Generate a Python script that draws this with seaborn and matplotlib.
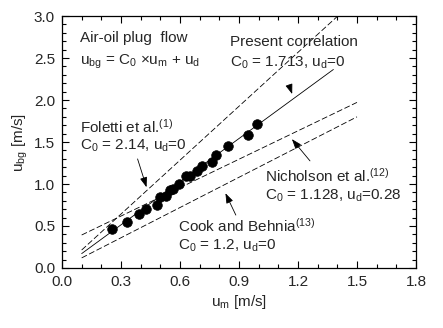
import numpy as np
import pandas as pd
import matplotlib
matplotlib.use("Agg")
import matplotlib.pyplot as plt
import seaborn as sns
from matplotlib.ticker import MultipleLocator

# Measured data
um = [0.253, 0.329, 0.391, 0.427, 0.483, 0.498, 0.527, 0.550, 0.565, 0.594,
      0.632, 0.653, 0.685, 0.712, 0.761, 0.783, 0.845, 0.947, 0.990]
ubg = [0.46, 0.55, 0.64, 0.70, 0.75, 0.84, 0.86, 0.93, 0.94, 1.00,
       1.09, 1.10, 1.16, 1.22, 1.265, 1.345, 1.456, 1.583, 1.714]

# Correlations
corr_names = ["Present", "Foletti", "Nicholson", "Cook"]
corr_C0 = [1.713, 2.14, 1.128, 1.2]
corr_ud = [0.0, 0.0, 0.28, 0.0]
corr_xmin = [0.1, 0.1, 0.1, 0.1]
corr_xmax = [1.38, 1.40, 1.5, 1.5]

sns.set_theme(style="ticks")
plt.rcParams["font.family"] = ["Liberation Sans", "DejaVu Sans"]
plt.rcParams["mathtext.fontset"] = "custom"
plt.rcParams["mathtext.rm"] = "Liberation Sans"
plt.rcParams["mathtext.it"] = "Liberation Sans"
plt.rcParams["mathtext.default"] = "regular"

fig = plt.figure(figsize=(4.43, 3.28), dpi=100)
ax = fig.add_axes([0.140, 0.183, 0.799, 0.768])

for name, c0, ud, x0, x1 in zip(corr_names, corr_C0, corr_ud, corr_xmin, corr_xmax):
    xs = np.array([x0, x1])
    df = pd.DataFrame({"x": xs, "y": c0 * xs + ud})
    ls = "-" if name == "Present" else (0, (7, 3))
    sns.lineplot(data=df, x="x", y="y", ax=ax, color="black", lw=0.6,
                 linestyle=ls, legend=False)

sns.scatterplot(x=um, y=ubg, ax=ax, color="black", s=48, edgecolor="black",
                linewidth=0.5, zorder=5)

ax.set_xlim(0, 1.8)
ax.set_ylim(0, 3.0)
ax.xaxis.set_major_locator(MultipleLocator(0.3))
ax.xaxis.set_minor_locator(MultipleLocator(0.1))
ax.yaxis.set_major_locator(MultipleLocator(0.5))
ax.yaxis.set_minor_locator(MultipleLocator(0.1))
ax.xaxis.set_major_formatter(matplotlib.ticker.FormatStrFormatter("%.1f"))
ax.yaxis.set_major_formatter(matplotlib.ticker.FormatStrFormatter("%.1f"))
ax.tick_params(which="both", direction="in", top=True, right=True,
               labelsize=11, color="black", width=0.8, pad=5)
ax.tick_params(which="major", length=5)
ax.tick_params(which="minor", length=3)
for s in ax.spines.values():
    s.set_linewidth(0.9)
    s.set_color("black")
ax.set_xlabel("u$_m$ [m/s]", fontsize=11, labelpad=3)
ax.set_ylabel("u$_{bg}$ [m/s]", fontsize=11, labelpad=3)

fs = 11
ax.text(0.09, 2.74, "Air-oil plug  flow", fontsize=fs, va="center")
ax.text(0.09, 2.46, "u$_{bg}$ = C$_0$ ×u$_m$ + u$_d$", fontsize=fs, va="center")
ax.text(0.855, 2.69, "Present correlation", fontsize=fs, va="center")
ax.text(0.855, 2.44, "C$_0$ = 1.713, u$_d$=0", fontsize=fs, va="center")
ax.text(0.09, 1.68, "Foletti et al.$^{(1)}$", fontsize=fs, va="center")
ax.text(0.09, 1.45, "C$_0$ = 2.14, u$_d$=0", fontsize=fs, va="center")
ax.text(1.03, 1.10, "Nicholson et al.$^{(12)}$", fontsize=fs, va="center")
ax.text(1.03, 0.86, "C$_0$ = 1.128, u$_d$=0.28", fontsize=fs, va="center")
ax.text(0.59, 0.50, "Cook and Behnia$^{(13)}$", fontsize=fs, va="center")
ax.text(0.59, 0.26, "C$_0$ = 1.2, u$_d$=0", fontsize=fs, va="center")

arrow = dict(arrowstyle="-|>,head_length=0.5,head_width=0.18", color="black", lw=0.6)
ax.annotate("", xy=(1.175, 2.04), xytext=(1.15, 2.21), arrowprops=arrow)
ax.annotate("", xy=(0.434, 0.93), xytext=(0.38, 1.33), arrowprops=arrow)
ax.annotate("", xy=(1.16, 1.56), xytext=(1.27, 1.25), arrowprops=arrow)
ax.annotate("", xy=(0.825, 0.92), xytext=(0.89, 0.60), arrowprops=arrow)

fig.savefig("out.png", dpi=100)
